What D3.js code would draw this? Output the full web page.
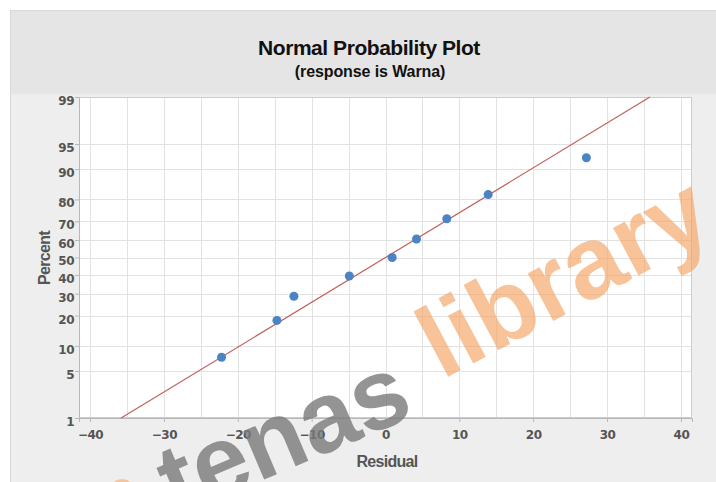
<!DOCTYPE html>
<html>
<head>
<meta charset="utf-8">
<script src="https://cdn.jsdelivr.net/npm/d3@7"></script>
<style>
  html, body { margin: 0; padding: 0; background: #ffffff; }
  svg { display: block; }
</style>
</head>
<body>
<svg id="chart" width="716" height="482"></svg>
<script>
// ---- data ----
const residuals = [-22.2, -14.7, -12.4, -4.9, 0.9, 4.2, 8.3, 13.9, 27.2];
const percents  = [7.4, 18.1, 28.7, 39.4, 50.0, 60.6, 71.3, 81.9, 92.6];
const fitResidual = [-35.8, 35.8];
const fitPercent  = [1, 99];
const xTicks = [-40, -30, -20, -10, 0, 10, 20, 30, 40];
const xGrid  = [-40, -35, -30, -25, -20, -15, -10, -5, 0, 5, 10, 15, 20, 25, 30, 35, 40];
const yTicks = [1, 5, 10, 20, 30, 40, 50, 60, 70, 80, 90, 95, 99];
const titleText = "Normal Probability Plot";
const subtitleText = "(response is Warna)";
const xLabel = "Residual";
const yLabel = "Percent";

// inverse normal CDF (Acklam)
function probit(p) {
  const a = [-3.969683028665376e+01, 2.209460984245205e+02, -2.759285104469687e+02, 1.383577518672690e+02, -3.066479806614716e+01, 2.506628277459239e+00];
  const b = [-5.447609879822406e+01, 1.615858368580409e+02, -1.556989798598866e+02, 6.680131188771972e+01, -1.328068155288572e+01];
  const c = [-7.784894002430293e-03, -3.223964580411365e-01, -2.400758277161838e+00, -2.549732539343734e+00, 4.374664141464968e+00, 2.938163982698783e+00];
  const d = [7.784695709041462e-03, 3.224671290700398e-01, 2.445134137142996e+00, 3.754408661907416e+00];
  const pl = 0.02425, ph = 1 - pl;
  let q, r;
  if (p < pl) { q = Math.sqrt(-2 * Math.log(p)); return (((((c[0]*q+c[1])*q+c[2])*q+c[3])*q+c[4])*q+c[5]) / ((((d[0]*q+d[1])*q+d[2])*q+d[3])*q+1); }
  if (p <= ph) { q = p - 0.5; r = q*q; return (((((a[0]*r+a[1])*r+a[2])*r+a[3])*r+a[4])*r+a[5])*q / (((((b[0]*r+b[1])*r+b[2])*r+b[3])*r+b[4])*r+1); }
  q = Math.sqrt(-2 * Math.log(1 - p)); return -(((((c[0]*q+c[1])*q+c[2])*q+c[3])*q+c[4])*q+c[5]) / ((((d[0]*q+d[1])*q+d[2])*q+d[3])*q+1);
}

const svg = d3.select("#chart");
const L = 79, R = 692, T = 97, B = 418;

const x = d3.scaleLinear().domain([-41.5, 41.5]).range([L, R]);
const yz = d3.scaleLinear().domain([probit(0.01), probit(0.99)]).range([B, T]);
const y = p => yz(probit(p / 100));

// frame
svg.append("rect").attr("x", 10.5).attr("y", 10.5).attr("width", 712).attr("height", 480)
  .attr("fill", "#eeeeee").attr("stroke", "#d9d9d9");
svg.append("rect").attr("x", 11).attr("y", 11).attr("width", 712).attr("height", 83)
  .attr("fill", "#e5e5e5");

// title
svg.append("text").attr("x", 369).attr("y", 55).attr("text-anchor", "middle")
  .attr("font-family", "Liberation Sans, Arial, sans-serif").attr("font-weight", "bold")
  .attr("font-size", 21).attr("letter-spacing", -0.45).attr("fill", "#111")
  .text(titleText);
svg.append("text").attr("x", 370).attr("y", 77).attr("text-anchor", "middle")
  .attr("font-family", "Liberation Sans, Arial, sans-serif").attr("font-weight", "bold")
  .attr("font-size", 16).attr("letter-spacing", -0.1).attr("fill", "#111")
  .text(subtitleText);

// plot area
svg.append("rect").attr("x", L).attr("y", T).attr("width", R - L).attr("height", B - T)
  .attr("fill", "#ffffff");

// grid
const g = svg.append("g");
g.selectAll("line.vg").data(xGrid).join("line")
  .attr("x1", d => Math.round(x(d)) + 0.5).attr("x2", d => Math.round(x(d)) + 0.5)
  .attr("y1", T).attr("y2", B).attr("stroke", "#e2e2e2").attr("stroke-width", 1);
g.selectAll("line.hg").data(yTicks.filter(d => d > 1 && d < 99)).join("line")
  .attr("x1", L).attr("x2", R)
  .attr("y1", d => Math.round(y(d)) + 0.5).attr("y2", d => Math.round(y(d)) + 0.5)
  .attr("stroke", "#e2e2e2").attr("stroke-width", 1);

// border
svg.append("rect").attr("x", L + 0.5).attr("y", T + 0.5).attr("width", R - L - 1).attr("height", B - T - 1)
  .attr("fill", "none").attr("stroke", "#cccccc");

// axes
const xAxis = d3.axisBottom(x).tickValues(xTicks).tickSize(4).tickFormat(d3.format("d"));
const yAxis = d3.axisLeft(yz).tickValues(yTicks.map(p => probit(p / 100))).tickSize(4)
  .tickFormat((d, i) => String(yTicks[i]));

const gx = svg.append("g").attr("transform", `translate(0,${B})`).call(xAxis);
const gy = svg.append("g").attr("transform", `translate(${L},0)`).call(yAxis);
[gx, gy].forEach(a => {
  a.select(".domain").attr("stroke", "#b8b8b8");
  a.selectAll(".tick line").attr("stroke", "#b8b8b8");
  a.selectAll(".tick text").attr("fill", "#555").attr("font-family", "DejaVu Sans, sans-serif")
    .attr("font-weight", "bold").attr("font-size", 12);
});
gx.selectAll(".tick text").attr("dy", "0.95em").attr("y", 10).attr("letter-spacing", -0.5);
gy.selectAll(".tick text").attr("dy", "0.62em").attr("x", -5).attr("letter-spacing", -0.5);

// axis labels
svg.append("text").attr("x", 387).attr("y", 467).attr("text-anchor", "middle")
  .attr("font-family", "Liberation Sans, Arial, sans-serif").attr("font-weight", "bold")
  .attr("font-size", 16).attr("letter-spacing", -0.7).attr("fill", "#555").text(xLabel);
svg.append("text").attr("transform", "translate(50,258) rotate(-90)").attr("text-anchor", "middle")
  .attr("font-family", "Liberation Sans, Arial, sans-serif").attr("font-weight", "bold")
  .attr("font-size", 16).attr("letter-spacing", -0.7).attr("fill", "#555").text(yLabel);

// fit line
const fit = fitResidual.map((r, i) => [r, fitPercent[i]]);
svg.append("path").datum(fit)
  .attr("d", d3.line().x(d => x(d[0])).y(d => y(d[1])))
  .attr("stroke", "#c0605a").attr("stroke-width", 1.2).attr("fill", "none");

// points
svg.selectAll("circle.pt").data(residuals.map((r, i) => [r, percents[i]])).join("circle")
  .attr("cx", d => x(d[0])).attr("cy", d => y(d[1])).attr("r", 4.5)
  .attr("fill", "#4a84c4");

// watermark
const wm = svg.append("g").attr("pointer-events", "none");
wm.append("circle").attr("cx", 122).attr("cy", 492).attr("r", 13).attr("fill", "#f5a462").attr("opacity", 0.55);
wm.append("text").attr("transform", "translate(176,517) rotate(-23)")
  .attr("font-family", "Liberation Sans, Arial, sans-serif").attr("font-weight", "bold")
  .attr("font-size", 100).attr("fill", "#7a7a7a").attr("opacity", 0.8).text("tenas");
wm.append("text").attr("transform", "translate(442,380) rotate(-28)")
  .attr("font-family", "Liberation Sans, Arial, sans-serif").attr("font-weight", "bold")
  .attr("font-size", 102).attr("fill", "#f5a462").attr("opacity", 0.65).text("library");
</script>
</body>
</html>
